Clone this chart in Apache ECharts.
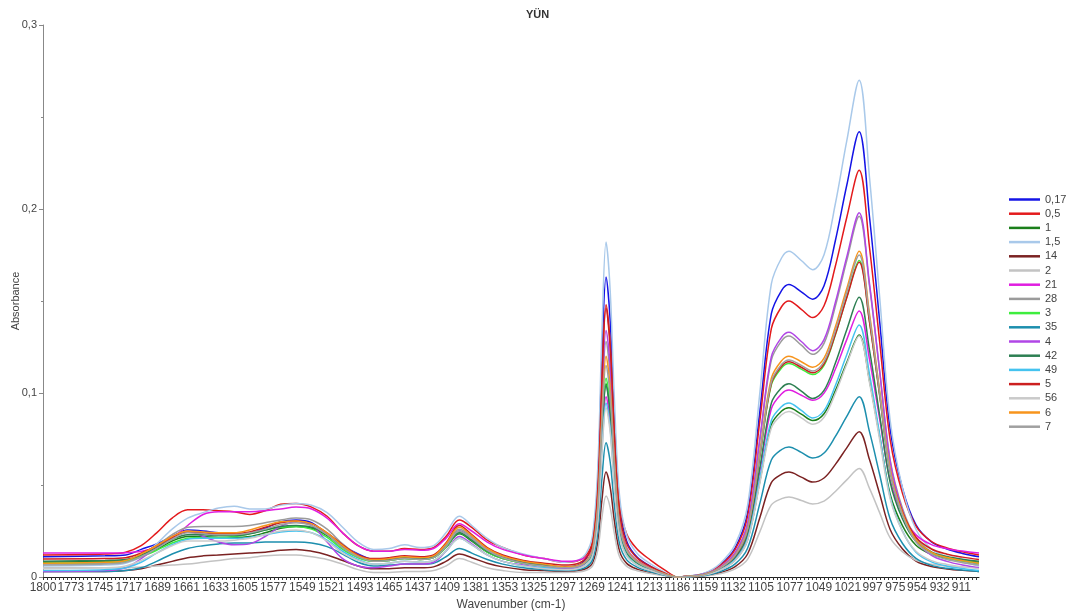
<!DOCTYPE html>
<html><head><meta charset="utf-8">
<script src="https://cdn.jsdelivr.net/npm/echarts@6/dist/echarts.min.js"></script>
<style>html,body{margin:0;padding:0;background:#fff}#c{width:1075px;height:616px}</style>
</head><body><div id="c"></div>
<script>
// Wavenumber (cm-1) sample positions shared by all spectra
const wavenumbers = [1800,1740,1720,1705,1690,1675,1660,1645,1630,1615,1600,1585,1570,1555,1540,1525,1510,
1495,1480,1465,1450,1435,1422,1410,1397,1385,1370,1355,1335,1315,1295,
1283,1274,1268,1263,1259,1255,1251,1247,1242,1235,1225,1212,1198,1186,
1175,1160,1145,1130,1118,1106,1095,1085,1078,1066,1055,1044,1033,1022,1010,
1000,990,980,968,955,940,925,910,894];

const xTickLabels = [1800,1773,1745,1717,1689,1661,1633,1605,1577,1549,1521,1493,1465,1437,1409,1381,1353,1325,1297,1269,1241,1213,1186,1159,1132,1105,1077,1049,1021,997,975,954,932,911];

const seriesNames = ['0,17','0,5','1','1,5','14','2','21','28','3','35','4','42','49','5','56','6','7'];
const seriesColors = ['#1414e6','#e31a1c','#1b7f1b','#a9c9ea','#7b2222','#c3c3c3','#e01ee0','#9b9b9b','#3ded3d','#1d8fae','#b146e6','#2d7f52','#45c3ef','#cc1f1f','#cacaca','#f7941d','#a0a0a0'];

const y_0_17 = [0.011,0.0115,0.012,0.015,0.018,0.022,0.0255,0.025,0.024,0.0235,0.024,0.0265,0.030,0.031,0.0295,0.023,0.017,
0.0125,0.0095,0.010,0.0105,0.010,0.011,0.017,0.025,0.021,0.014,0.0105,0.008,0.0065,0.0055,
0.0063,0.0101,0.0192,0.0523,0.1187,0.163,0.1393,0.0868,0.039,0.0194,0.0108,0.0058,0.002,0,
0.0005,0.0019,0.0064,0.0159,0.035,0.0906,0.1431,0.1558,0.159,0.155,0.151,0.1583,0.1829,0.2129,0.242,
0.1958,0.138,0.0803,0.048,0.0283,0.0191,0.0152,0.0128,0.011];
const y_0_5 = [0.012,0.0125,0.0135,0.017,0.024,0.032,0.0365,0.0365,0.036,0.0355,0.034,0.036,0.0395,0.040,0.038,0.033,0.024,
0.017,0.014,0.014,0.0155,0.015,0.016,0.022,0.031,0.027,0.020,0.016,0.012,0.010,0.008,
0.0087,0.012,0.0199,0.0494,0.1085,0.148,0.1268,0.080,0.0401,0.0233,0.0152,0.0092,0.0037,0,
0.0005,0.0018,0.006,0.015,0.033,0.0855,0.135,0.147,0.150,0.1455,0.141,0.1474,0.169,0.1954,0.221,
0.1792,0.127,0.0747,0.0454,0.0277,0.0193,0.0158,0.0137,0.012];
const y_1 = [0.008,0.0085,0.009,0.0115,0.015,0.0195,0.022,0.022,0.0215,0.0215,0.022,0.024,0.0265,0.0275,0.0265,0.0225,0.016,
0.011,0.0085,0.009,0.010,0.0095,0.0105,0.016,0.0235,0.0195,0.0135,0.010,0.0075,0.006,0.005,
0.0055,0.008,0.0136,0.0346,0.0768,0.105,0.0899,0.0565,0.0259,0.0133,0.0077,0.0042,0.0014,0,
0.0003,0.0011,0.0037,0.0092,0.0202,0.0524,0.0828,0.0902,0.092,0.0885,0.085,0.0887,0.1013,0.1166,0.1315,
0.1068,0.0759,0.045,0.0278,0.0173,0.0123,0.0102,0.009,0.008];
const y_1_5 = [0.006,0.0065,0.0075,0.011,0.018,0.026,0.032,0.035,0.0375,0.0385,0.037,0.037,0.039,0.040,0.039,0.035,0.027,
0.019,0.015,0.0155,0.0175,0.016,0.017,0.024,0.033,0.028,0.021,0.016,0.0125,0.010,0.008,
0.0089,0.0131,0.023,0.0596,0.1329,0.182,0.1557,0.0976,0.0445,0.0227,0.0129,0.0071,0.0025,0,
0.0005,0.0021,0.0071,0.0177,0.0389,0.1009,0.1593,0.1735,0.177,0.172,0.167,0.1752,0.203,0.237,0.270,
0.2172,0.1512,0.0852,0.0482,0.0258,0.0152,0.0108,0.0081,0.006];
const y_14 = [0.003,0.003,0.0035,0.0045,0.0065,0.0085,0.0105,0.0115,0.012,0.0125,0.013,0.0135,0.0145,0.015,0.014,0.012,0.009,
0.006,0.0045,0.0045,0.005,0.005,0.0055,0.0085,0.0125,0.0105,0.0075,0.0055,0.004,0.0035,0.003,
0.0033,0.0046,0.0076,0.019,0.0417,0.057,0.0489,0.0307,0.0142,0.0074,0.0043,0.0023,0.0009,0,
0.0002,0.0007,0.0023,0.0057,0.0125,0.0325,0.0513,0.0559,0.057,0.0543,0.0516,0.0538,0.0612,0.0702,0.079,
0.0638,0.0448,0.0258,0.0152,0.0087,0.0057,0.0044,0.0036,0.003];
const y_2 = [0.005,0.005,0.005,0.0055,0.006,0.0065,0.007,0.008,0.009,0.010,0.0105,0.0115,0.012,0.012,0.011,0.0095,0.007,
0.004,0.0025,0.0025,0.003,0.003,0.0035,0.006,0.010,0.008,0.005,0.0035,0.0025,0.0025,0.0025,
0.0027,0.0037,0.0061,0.0148,0.0323,0.044,0.0377,0.0238,0.0111,0.0058,0.0034,0.0019,0.0007,0,
0.0001,0.0005,0.0017,0.0044,0.0096,0.0248,0.0392,0.0426,0.0435,0.0416,0.0397,0.0412,0.0465,0.0528,0.059,
0.0482,0.0347,0.0212,0.0136,0.0091,0.0069,0.006,0.0054,0.005];
const y_21 = [0.013,0.013,0.0132,0.014,0.016,0.021,0.028,0.034,0.0355,0.0355,0.0355,0.036,0.037,0.038,0.037,0.032,0.024,
0.017,0.014,0.014,0.015,0.0145,0.0155,0.021,0.029,0.025,0.019,0.015,0.012,0.010,0.0085,
0.009,0.011,0.0158,0.0347,0.0726,0.098,0.0843,0.0541,0.0264,0.0146,0.0089,0.0051,0.0018,0,
0.0003,0.0012,0.0041,0.0102,0.0224,0.0579,0.0914,0.0996,0.1016,0.0988,0.096,0.0999,0.113,0.129,0.1446,
0.1183,0.0854,0.0525,0.0341,0.0229,0.0176,0.0154,0.0141,0.013];
const y_28 = [0.007,0.0075,0.0085,0.012,0.017,0.023,0.027,0.0275,0.0275,0.0275,0.028,0.0295,0.031,0.032,0.031,0.026,0.018,
0.012,0.009,0.0095,0.0105,0.010,0.011,0.017,0.026,0.022,0.015,0.011,0.008,0.0065,0.005,
0.0056,0.0086,0.0156,0.0415,0.0934,0.128,0.1094,0.0685,0.031,0.0156,0.0088,0.0048,0.0016,0,
0.0004,0.0016,0.0052,0.0131,0.0288,0.0747,0.1179,0.1284,0.131,0.126,0.121,0.127,0.1473,0.172,0.196,
0.1582,0.111,0.0637,0.0372,0.0212,0.0136,0.0104,0.0085,0.007];
const y_3 = [0.0075,0.008,0.0085,0.011,0.0145,0.0185,0.021,0.0215,0.0215,0.022,0.0235,0.0255,0.027,0.0275,0.026,0.0215,0.015,
0.0105,0.0085,0.009,0.010,0.0095,0.0105,0.016,0.024,0.020,0.0135,0.010,0.0075,0.006,0.005,
0.0055,0.008,0.0138,0.0355,0.079,0.108,0.0924,0.0581,0.0266,0.0136,0.0078,0.0043,0.0015,0,
0.0003,0.0014,0.0046,0.0116,0.0255,0.0661,0.1044,0.1137,0.116,0.113,0.110,0.115,0.1317,0.1522,0.172,
0.1391,0.098,0.0569,0.0338,0.0198,0.0133,0.0105,0.0088,0.0075];
const y_35 = [0.003,0.003,0.0035,0.005,0.0085,0.0125,0.0155,0.017,0.018,0.0185,0.0185,0.019,0.019,0.019,0.0185,0.0165,0.0125,
0.008,0.006,0.0065,0.007,0.007,0.0075,0.011,0.0155,0.013,0.0095,0.007,0.005,0.004,0.0035,
0.0039,0.0055,0.0095,0.0241,0.0534,0.073,0.0625,0.0393,0.0181,0.0093,0.0054,0.0029,0.001,0,
0.0002,0.0008,0.0028,0.0071,0.0156,0.0403,0.0636,0.0693,0.0707,0.0677,0.0647,0.0674,0.0764,0.0873,0.098,
0.079,0.0553,0.0315,0.0182,0.0101,0.0063,0.0047,0.0038,0.003];
const y_4 = [0.003,0.0035,0.005,0.010,0.016,0.0215,0.025,0.022,0.019,0.0175,0.018,0.022,0.0275,0.030,0.028,0.019,0.010,
0.006,0.005,0.006,0.007,0.007,0.008,0.014,0.022,0.018,0.012,0.0085,0.0065,0.005,0.0045,
0.0052,0.0083,0.0158,0.043,0.0976,0.134,0.1144,0.0714,0.032,0.0159,0.0088,0.0048,0.0016,0,
0.0004,0.0016,0.0053,0.0133,0.0293,0.0758,0.1197,0.1303,0.133,0.128,0.123,0.129,0.1493,0.174,0.198,
0.1594,0.1112,0.0629,0.0359,0.0195,0.0118,0.0085,0.0065,0.005];
const y_42 = [0.0085,0.009,0.0095,0.012,0.016,0.0205,0.023,0.023,0.0225,0.0225,0.0235,0.0255,0.0275,0.028,0.027,0.023,0.0165,
0.0115,0.009,0.0095,0.0105,0.010,0.011,0.0165,0.024,0.020,0.014,0.0105,0.008,0.0065,0.0055,
0.006,0.0083,0.0139,0.0346,0.0762,0.104,0.0891,0.0561,0.026,0.0135,0.0078,0.0043,0.0015,0,
0.0003,0.0013,0.0042,0.0105,0.0231,0.0599,0.0945,0.1029,0.105,0.101,0.097,0.1014,0.1163,0.1344,0.152,
0.1233,0.0874,0.0515,0.0315,0.0193,0.0135,0.0111,0.0096,0.0085];
const y_49 = [0.0035,0.004,0.005,0.008,0.013,0.0175,0.0205,0.021,0.021,0.021,0.0215,0.023,0.0245,0.025,0.024,0.020,0.014,
0.0095,0.007,0.0075,0.0085,0.008,0.009,0.014,0.021,0.0175,0.012,0.0085,0.006,0.005,0.004,
0.0045,0.0066,0.0118,0.0309,0.0691,0.0946,0.0809,0.0507,0.023,0.0117,0.0066,0.0036,0.0013,0,
0.0003,0.0011,0.0038,0.0095,0.0208,0.0539,0.0851,0.0927,0.0946,0.0905,0.0864,0.0904,0.1041,0.1208,0.137,
0.1103,0.0769,0.0435,0.0249,0.0135,0.0082,0.0059,0.0046,0.0035];
const y_5 = [0.0098,0.010,0.0105,0.013,0.017,0.0215,0.0245,0.024,0.0235,0.0235,0.0245,0.027,0.0295,0.0305,0.029,0.024,0.0175,
0.012,0.010,0.0105,0.0115,0.011,0.012,0.0185,0.028,0.023,0.016,0.012,0.009,0.0075,0.0065,
0.0072,0.0106,0.0184,0.0478,0.1067,0.146,0.1249,0.0783,0.0357,0.0182,0.0104,0.0057,0.002,0,
0.0004,0.0014,0.0047,0.0117,0.0257,0.0667,0.1053,0.1147,0.117,0.114,0.111,0.1158,0.132,0.1518,0.171,
0.1387,0.0983,0.058,0.0353,0.0216,0.0152,0.0124,0.0108,0.0095];
const y_56 = [0.0045,0.005,0.006,0.009,0.013,0.017,0.0195,0.0195,0.0195,0.020,0.021,0.023,0.025,0.0255,0.024,0.0195,0.013,
0.009,0.007,0.0075,0.0085,0.008,0.009,0.014,0.021,0.0175,0.012,0.0085,0.006,0.0045,0.004,
0.0045,0.0066,0.0116,0.0301,0.0672,0.092,0.0787,0.0493,0.0224,0.0114,0.0065,0.0035,0.0012,0,
0.0003,0.0011,0.0036,0.009,0.0198,0.0513,0.081,0.0882,0.090,0.0865,0.083,0.0868,0.0998,0.1156,0.131,
0.1057,0.0741,0.0425,0.0247,0.014,0.0089,0.0068,0.0055,0.0045];
const y_6 = [0.0075,0.008,0.009,0.0125,0.017,0.022,0.025,0.0245,0.024,0.024,0.0255,0.028,0.030,0.0305,0.029,0.024,0.017,
0.0115,0.0095,0.010,0.011,0.0105,0.0115,0.018,0.027,0.0225,0.0155,0.0115,0.0085,0.007,0.0055,
0.0061,0.0088,0.0153,0.0394,0.0877,0.120,0.1027,0.0644,0.0295,0.0151,0.0086,0.0047,0.0017,0,
0.0004,0.0014,0.0048,0.012,0.0264,0.0684,0.108,0.1176,0.120,0.117,0.114,0.119,0.136,0.1568,0.177,
0.1431,0.1007,0.0584,0.0346,0.0202,0.0134,0.0106,0.0089,0.0075];
const y_7 = [0.0065,0.007,0.008,0.011,0.0155,0.0205,0.024,0.0235,0.023,0.023,0.024,0.026,0.0285,0.0295,0.028,0.023,0.016,
0.011,0.0085,0.009,0.010,0.0095,0.0105,0.0165,0.025,0.021,0.0145,0.0105,0.0075,0.006,0.005,
0.0056,0.0083,0.0145,0.0376,0.084,0.115,0.0984,0.0617,0.0281,0.0143,0.0082,0.0045,0.0015,0,
0.0004,0.0014,0.0047,0.0118,0.026,0.0673,0.1062,0.1156,0.118,0.115,0.112,0.117,0.134,0.1548,0.175,
0.1413,0.0992,0.0571,0.0335,0.0191,0.0124,0.0095,0.0078,0.0065];

const seriesValues = [y_0_17,y_0_5,y_1,y_1_5,y_14,y_2,y_21,y_28,y_3,y_35,y_4,y_42,y_49,y_5,y_56,y_6,y_7];

// dense ruler ticks along the wavenumber axis
const rulerTicks = [];
for (let w = 1800; w >= 894; w -= 3.86) rulerTicks.push(+w.toFixed(2));

const chart = echarts.init(document.getElementById('c'), null, {renderer: 'canvas'});
const fontFam = '"Liberation Sans", Arial, sans-serif';

chart.setOption({
  animation: false,
  backgroundColor: '#ffffff',
  title: {
    text: 'YÜN', left: 'center', top: 4,
    textStyle: {fontSize: 11, fontWeight: 'bold', color: '#333', fontFamily: fontFam}
  },
  legend: {
    orient: 'vertical', left: 1009, top: 194, padding: 0,
    icon: 'rect', itemWidth: 31, itemHeight: 2.5, itemGap: 3.2,
    data: seriesNames,
    textStyle: {fontSize: 11, color: '#444', fontFamily: fontFam}
  },
  grid: {left: 43, right: 96, top: 25, bottom: 39, containLabel: false, outerBoundsMode: 'none'},
  xAxis: {
    type: 'value', min: 894, max: 1800, inverse: true,
    name: 'Wavenumber (cm-1)', nameLocation: 'middle', nameGap: 20,
    nameTextStyle: {fontSize: 12, color: '#444', fontFamily: fontFam},
    axisLine: {show: true, onZero: false, lineStyle: {color: '#222', width: 1}},
    axisTick: {show: true, customValues: rulerTicks, length: 3, lineStyle: {color: '#333', width: 1}},
    axisLabel: {customValues: xTickLabels, margin: 5, fontSize: 12, color: '#444', fontFamily: fontFam,
      formatter: v => String(v)},
    splitLine: {show: false}
  },
  yAxis: {
    type: 'value', min: 0, max: 0.3, interval: 0.1,
    name: 'Absorbance', nameLocation: 'middle', nameGap: 22, nameMoveOverlap: false,
    nameTextStyle: {fontSize: 11, color: '#444', fontFamily: fontFam},
    axisLine: {show: true, lineStyle: {color: '#888', width: 1}},
    axisTick: {show: true, length: 4, lineStyle: {color: '#888'}},
    minorTick: {show: true, splitNumber: 2, length: 2, lineStyle: {color: '#888'}},
    axisLabel: {margin: 6, fontSize: 11, color: '#444', fontFamily: fontFam,
      formatter: v => String(+v.toFixed(2)).replace('.', ',')},
    splitLine: {show: false}
  },
  series: seriesNames.map((name, i) => ({
    name: name,
    type: 'line',
    symbol: 'none',
    smooth: 0.35,
    color: seriesColors[i],
    lineStyle: {width: 1.5, color: seriesColors[i]},
    data: wavenumbers.map((w, j) => [w, seriesValues[i][j]])
  }))
});
</script>
</body></html>
